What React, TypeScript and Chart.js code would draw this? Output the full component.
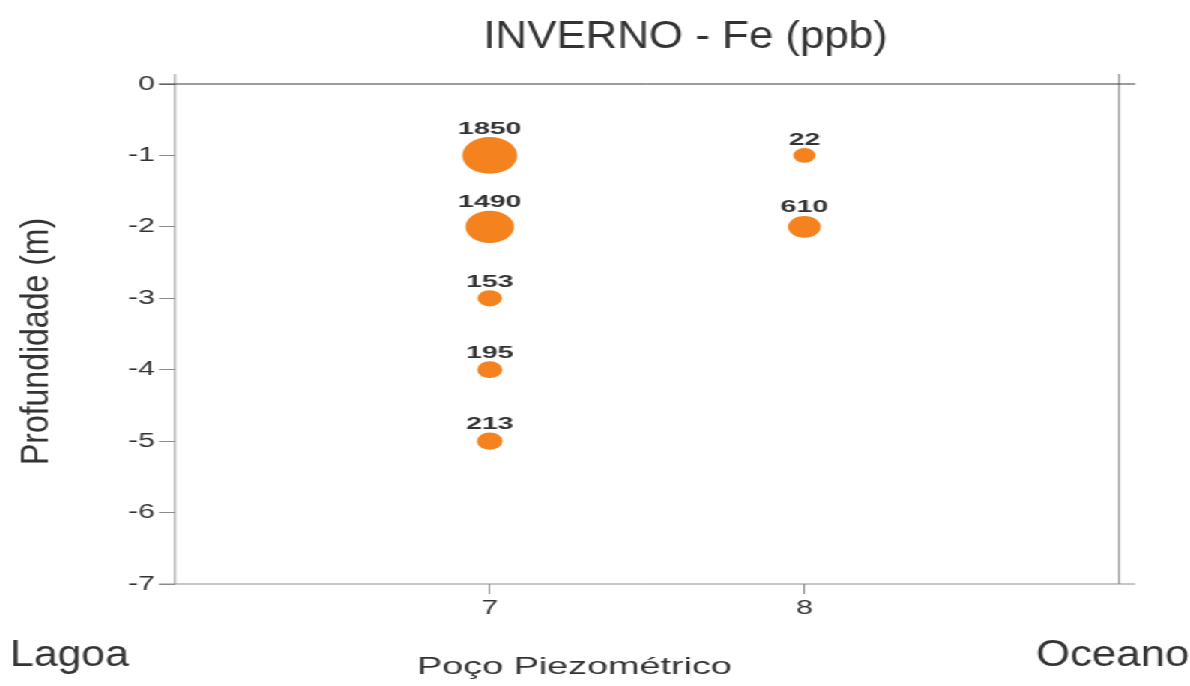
import React, { useEffect, useRef } from 'react';
import { Chart, registerables } from 'chart.js';

Chart.register(...registerables);

// ---- data ----
const TITLE = 'INVERNO - Fe (ppb)';
const X_TITLE = 'Poço Piezométrico';
const Y_TITLE = 'Profundidade (m)';
const LEFT_NOTE = 'Lagoa';
const RIGHT_NOTE = 'Oceano';

const X_TICKS = [7, 8];
const Y_TICKS = [0, -1, -2, -3, -4, -5, -6, -7];

const WELL_7_DEPTHS = [-1, -2, -3, -4, -5];
const WELL_7_FE = [1850, 1490, 153, 195, 213];
const WELL_8_DEPTHS = [-1, -2];
const WELL_8_FE = [22, 610];

// ---- layout / style ----
const CANVAS_W = 794;
const CANVAS_H = 686;
const STRETCH = 1190 / CANVAS_W;
const FONT = "'Liberation Sans', Arial, Helvetica, sans-serif";
const TEXT = '#333333';
const GREY = '#8c8c8c';
const ORANGE = '#F4821F';

const radiusFor = (v: number) => 7.24 + 0.006 * v;

const toPoints = (well: number, depths: number[], fe: number[]) =>
  depths.map((d, i) => ({ x: well, y: d, r: radiusFor(fe[i]), v: fe[i] }));

function drawText(
  ctx: CanvasRenderingContext2D,
  text: string,
  x: number,
  y: number,
  font: string,
  fx: number,
  baseline: CanvasTextBaseline = 'alphabetic',
) {
  ctx.save();
  ctx.translate(x, y);
  ctx.scale(fx, 1);
  ctx.font = font;
  ctx.fillStyle = TEXT;
  ctx.textAlign = 'center';
  ctx.textBaseline = baseline;
  ctx.fillText(text, 0, 0);
  ctx.restore();
}

const framePlugin = {
  id: 'frame',
  beforeDatasetsDraw(chart: any) {
    const { ctx, chartArea: a } = chart;
    const ext = 10.7;
    ctx.save();
    ctx.lineWidth = 1;
    ctx.strokeStyle = GREY;
    ctx.beginPath();
    ctx.moveTo(a.left, a.top - 10);
    ctx.lineTo(a.left, a.bottom);
    ctx.moveTo(a.right, a.top - 10);
    ctx.lineTo(a.right, a.bottom);
    ctx.moveTo(a.left - ext, a.bottom);
    ctx.lineTo(a.right + ext, a.bottom);
    ctx.stroke();
    const y0 = chart.scales.y.getPixelForValue(0);
    ctx.strokeStyle = '#3a3a3a';
    ctx.beginPath();
    ctx.moveTo(a.left - ext, y0);
    ctx.lineTo(a.right + ext, y0);
    ctx.stroke();
    ctx.restore();
  },
};

const labelPlugin = {
  id: 'bubbleLabels',
  afterDatasetsDraw(chart: any) {
    const { ctx } = chart;
    chart.data.datasets.forEach((ds: any, di: number) => {
      const meta = chart.getDatasetMeta(di);
      meta.data.forEach((el: any, i: number) => {
        const r = el.options.radius;
        drawText(ctx, String(ds.data[i].v), el.x, el.y - r - 3.5, `bold 17px ${FONT}`, 1.12);
      });
    });
  },
};

const textPlugin = {
  id: 'texts',
  afterDraw(chart: any) {
    const { ctx } = chart;
    drawText(ctx, TITLE, 457.4, 47.5, `39px ${FONT}`, 0.75);
    drawText(ctx, X_TITLE, 383.3, 674, `24px ${FONT}`, 1.05);
    drawText(ctx, LEFT_NOTE, 46.4, 666, `36px ${FONT}`, 0.79);
    drawText(ctx, RIGHT_NOTE, 742.3, 666, `36px ${FONT}`, 0.81);
    ctx.save();
    ctx.translate(25, 341.5);
    ctx.rotate(-Math.PI / 2);
    ctx.scale(1, 0.786);
    ctx.font = `32px ${FONT}`;
    ctx.fillStyle = TEXT;
    ctx.textAlign = 'center';
    ctx.textBaseline = 'middle';
    ctx.fillText(Y_TITLE, 0, 0);
    ctx.restore();
  },
};

export default function App() {
  const ref = useRef<HTMLCanvasElement>(null);

  useEffect(() => {
    if (!ref.current) return;
    const chart = new Chart(ref.current, {
      type: 'bubble',
      data: {
        datasets: [
          {
            label: 'Poço 7',
            data: toPoints(7, WELL_7_DEPTHS, WELL_7_FE) as any,
            backgroundColor: ORANGE,
            borderWidth: 0,
          },
          {
            label: 'Poço 8',
            data: toPoints(8, WELL_8_DEPTHS, WELL_8_FE) as any,
            backgroundColor: ORANGE,
            borderWidth: 0,
          },
        ],
      },
      options: {
        animation: false,
        responsive: false,
        devicePixelRatio: 1,
        events: [],
        layout: { padding: { top: 84, right: 47.3, left: 0, bottom: 0 } },
        plugins: {
          legend: { display: false },
          tooltip: { enabled: false },
          title: { display: false },
        },
        scales: {
          x: {
            type: 'linear',
            min: 6,
            max: 9,
            afterBuildTicks: (s: any) => {
              s.ticks = X_TICKS.map((v) => ({ value: v }));
            },
            afterFit: (s: any) => {
              s.height = 102;
            },
            grid: { drawOnChartArea: false, drawTicks: true, tickLength: 10, color: GREY, lineWidth: 1 },
            border: { display: false },
            ticks: { color: TEXT, font: { family: FONT, size: 20 }, padding: 2, maxRotation: 0 },
          },
          y: {
            type: 'linear',
            min: -7,
            max: 0,
            afterBuildTicks: (s: any) => {
              s.ticks = Y_TICKS.map((v) => ({ value: v }));
            },
            afterFit: (s: any) => {
              s.width = 116.8;
            },
            grid: { drawOnChartArea: false, drawTicks: true, tickLength: 10.7, color: GREY, lineWidth: 1 },
            border: { display: false },
            ticks: { color: TEXT, font: { family: FONT, size: 20 }, padding: 2.7 },
          },
        },
      },
      plugins: [framePlugin, labelPlugin, textPlugin],
    });
    return () => chart.destroy();
  }, []);

  return (
    <div
      style={{
        position: 'fixed',
        left: 0,
        top: 0,
        width: CANVAS_W,
        height: CANVAS_H,
        transform: `scaleX(${STRETCH})`,
        transformOrigin: '0 0',
        background: '#fff',
      }}
    >
      <canvas ref={ref} width={CANVAS_W} height={CANVAS_H} style={{ display: 'block' }} />
    </div>
  );
}
